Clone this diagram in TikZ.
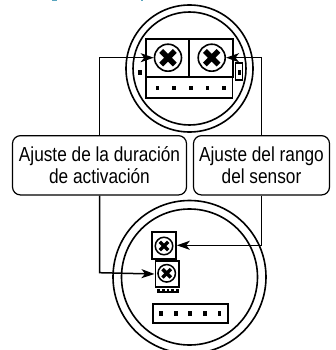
\documentclass[tikz,border=0pt]{standalone}
\usepackage{fontspec}
\setmainfont[FakeStretch=0.85]{Liberation Sans}
\usetikzlibrary{arrows.meta}
\definecolor{speck}{RGB}{90,165,190}
\tikzset{
  ln/.style={draw=black,line width=1.5pt},
  rim/.style={circle,draw=black,line width=1.6pt,inner sep=0pt,fill=none},
  part/.style={rectangle,draw=black,line width=1.7pt,inner sep=0pt},
  lbl/.style={rectangle,rounded corners=8pt,draw=black,line width=1.2pt,inner sep=0pt,align=center,font=\fontsize{20.3}{22.3}\selectfont},
  pin/.style={rectangle,fill=black,inner sep=0pt,minimum width=3.6pt,minimum height=4.6pt},
  screwA/.style={circle,draw=black,line width=1.6pt,inner sep=0pt,minimum size=27pt},
  screwB/.style={circle,draw=black,line width=1.5pt,inner sep=0pt,minimum size=17.5pt},
  pointer/.style={ln,-{Stealth[length=13pt,width=9pt,inset=3.5pt]}}
}
\newcommand{\crossA}[1]{\draw[line width=5.4pt] ([shift={(-6.8pt,-6.8pt)}]#1.center) -- ([shift={(6.8pt,6.8pt)}]#1.center) ([shift={(-6.8pt,6.8pt)}]#1.center) -- ([shift={(6.8pt,-6.8pt)}]#1.center);}
\newcommand{\crossB}[1]{\draw[line width=3.4pt] ([shift={(-4.2pt,-4.2pt)}]#1.center) -- ([shift={(4.2pt,4.2pt)}]#1.center) ([shift={(-4.2pt,4.2pt)}]#1.center) -- ([shift={(4.2pt,-4.2pt)}]#1.center);}
\begin{document}
\begin{tikzpicture}[x=1pt,y=-1pt]
\useasboundingbox (0,0) rectangle (336,350);
\clip (0,0) rectangle (336,350);
% clipped remains of a caption at the top edge
\fill[speck] (51.5,0) rectangle (56.5,1);
\fill[speck] (140.5,0) rectangle (143,1);
% top dial
\node[rim,minimum size=127pt] (topouter) at (189.5,68.5) {};
\node[rim,minimum size=113pt] (topinner) at (189.5,68.5) {};
\node[part,minimum width=43.3pt,minimum height=38pt] (trimL) at (167.5,57.7) {};
\node[part,minimum width=43.7pt,minimum height=38pt] (trimR) at (211,57.7) {};
\node[part,minimum width=86.6pt,minimum height=21.3pt] (strip) at (189.3,87.3) {};
\node[screwA] (screwL) at (168,57.7) {};
\node[screwA] (screwR) at (211.7,57.7) {};
\crossA{screwL}
\crossA{screwR}
\foreach \i/\x in {1/157.3,2/174,3/190.7,4/207.3,5/223.7}
  \node[pin] (tp\i) at (\x,88) {};
\node[pin] (tdot) at (140,72.3) {};
\node[rectangle,draw=black,line width=1.2pt,inner sep=0pt,minimum width=7pt,minimum height=17pt] (sw) at (239.2,71.5) {};
\node[pin] (swdot) at (239.3,72.6) {};
% bottom dial
\node[rim,minimum size=153pt] (botouter) at (189.5,277) {};
\node[rim,minimum size=136pt] (botinner) at (189.5,277) {};
\node[part,minimum width=23.7pt,minimum height=27.3pt] (potA) at (164.1,245.3) {};
\node[part,minimum width=23.7pt,minimum height=26.6pt] (potB) at (167.2,274) {};
\node[screwB] (screwC) at (164,246) {};
\node[screwB] (screwD) at (166.7,273.3) {};
\crossB{screwC}
\crossB{screwD}
\node[rectangle,fill=black,inner sep=0pt,minimum width=22pt,minimum height=4.4pt] (foot) at (167.5,290.7) {};
\foreach \i/\x in {1/160.5,2/165.5,3/170,4/175}
  \node[rectangle,fill=white,inner sep=0pt,minimum width=2pt,minimum height=2.4pt] (ft\i) at (\x,290.2) {};
\node[part,minimum width=75.6pt,minimum height=19pt] (conn) at (190.5,313.8) {};
\foreach \i/\x in {1/161,2/175.7,3/190,4/205,5/219.3}
  \node[pin] (bp\i) at (\x,313.3) {};
% labels
\node[lbl,minimum width=174pt,minimum height=59.3pt] (durbox) at (99.5,165.3) {Ajuste de la duración\\de activación};
\node[lbl,minimum width=136pt,minimum height=59.3pt] (rngbox) at (261.5,165.3) {Ajuste del rango\\del sensor};
% connectors
\coordinate (lx) at (99.5,57.7);
\coordinate (rx) at (261.5,57.7);
\coordinate (lb) at (99.5,272.7);
\coordinate (rb) at (261.5,245.3);
\draw[pointer] (durbox.north) -- (lx) -- (screwL.west);
\draw[pointer] (rngbox.north) -- (rx) -- (screwR.east);
\draw[pointer] (durbox.south) -- (lb) -- (potB.west);
\draw[pointer] (rngbox.south) -- (rb) -- (potA.east);
\end{tikzpicture}
\end{document}
